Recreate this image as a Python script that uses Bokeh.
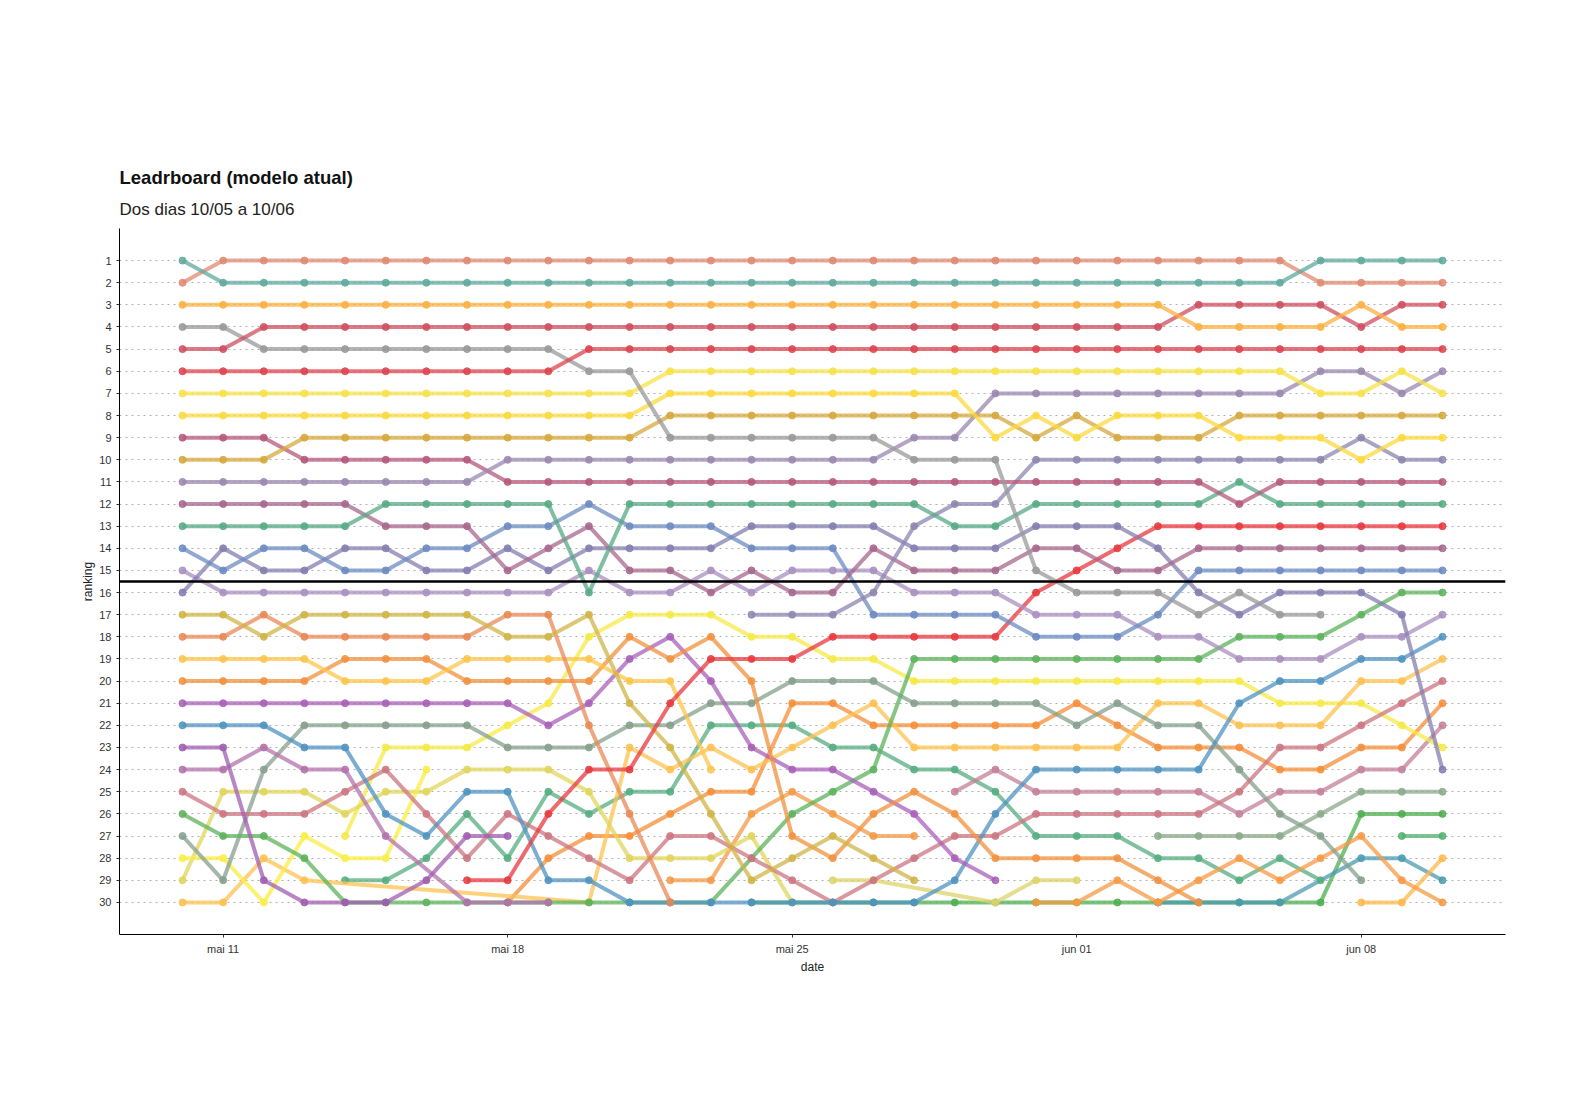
from bokeh.plotting import figure
from bokeh.models import Range1d, FixedTicker, Span, Title
from bokeh.embed import file_html
from bokeh.resources import INLINE

N = None

# days 10/05 .. 10/06 (index 0 = mai 10)
days = list(range(32))
x_tick_days = [1, 8, 15, 22, 29]
x_tick_labels = ["mai 11", "mai 18", "mai 25", "jun 01", "jun 08"]
rank_ticks = list(range(1, 31))

teal = [1,2,2,2,2,2,2,2,2,2, 2,2,2,2,2,2,2,2,2,2, 2,2,2,2,2,2,2,2,1,1, 1,1]
salmon = [2,1,1,1,1,1,1,1,1,1, 1,1,1,1,1,1,1,1,1,1, 1,1,1,1,1,1,1,1,2,2, 2,2]
orange_a = [3,3,3,3,3,3,3,3,3,3, 3,3,3,3,3,3,3,3,3,3, 3,3,3,3,3,4,4,4,4,3, 4,4]
red_a = [5,5,4,4,4,4,4,4,4,4, 4,4,4,4,4,4,4,4,4,4, 4,4,4,4,4,3,3,3,3,4, 3,3]
red_b = [6,6,6,6,6,6,6,6,6,6, 5,5,5,5,5,5,5,5,5,5, 5,5,5,5,5,5,5,5,5,5, 5,5]
gray_a = [4,4,5,5,5,5,5,5,5,5, 6,6,9,9,9,9,9,9,10,10, 10,15,16,16,16,17,16,17,17,N, N,N]
yellow_a = [7,7,7,7,7,7,7,7,7,7, 7,7,6,6,6,6,6,6,6,6, 6,6,6,6,6,6,6,6,7,7, 6,7]
yellow_b = [8,8,8,8,8,8,8,8,8,8, 8,8,7,7,7,7,7,7,7,7, 9,8,9,8,8,8,9,9,9,10, 9,9]
gold_a = [10,10,10,9,9,9,9,9,9,9, 9,9,8,8,8,8,8,8,8,8, 8,9,8,9,9,9,8,8,8,8, 8,8]
purple_a = [11,11,11,11,11,11,11,11,10,10, 10,10,10,10,10,10,10,10,9,9, 7,7,7,7,7,7,7,7,6,6, 7,6]
rose_a = [9,9,9,10,10,10,10,10,11,11, 11,11,11,11,11,11,11,11,11,11, 11,11,11,11,11,11,12,11,11,11, 11,11]
green_a = [13,13,13,13,13,12,12,12,12,12, 16,12,12,12,12,12,12,12,12,13, 13,12,12,12,12,12,11,12,12,12, 12,12]
purple_b = [N,N,N,N,N,N,N,N,N,N, N,N,N,N,17,17,17,16,13,12, 12,10,10,10,10,10,10,10,10,9, 10,10]
rose_b = [12,12,12,12,12,13,13,13,15,14, 13,15,15,16,15,16,16,14,15,15, 15,14,14,15,15,14,14,14,14,14, 14,14]
blue_a = [14,15,14,14,15,15,14,14,13,13, 12,13,13,13,14,14,14,17,17,17, 17,18,18,18,17,15,15,15,15,15, 15,15]
slate_a = [16,14,15,15,14,14,15,15,14,15, 14,14,14,14,13,13,13,13,14,14, 14,13,13,13,14,16,17,16,16,16, 17,24]
lavender_a = [15,16,16,16,16,16,16,16,16,16, 15,16,16,15,16,15,15,15,16,16, 16,17,17,17,18,18,19,19,19,18, 18,17]
red_c = [N,N,N,N,N,N,N,29,29,26, 24,24,21,19,19,19,18,18,18,18, 18,16,15,14,13,13,13,13,13,13, 13,13]
khaki_a = [17,17,18,17,17,17,17,17,18,18, 17,21,23,26,29,28,27,28,29,N, N,N,N,N,N,N,N,N,N,N, N,N]
orange_b = [18,18,17,18,18,18,18,18,17,17, 22,26,30,N,N,N,N,N,N,N, N,N,N,N,N,N,N,N,N,N, N,N]
ltorange_a = [19,19,19,19,20,20,20,19,19,19, 19,20,20,24,N,N,N,N,N,N, N,N,N,N,N,N,N,N,N,N, N,N]
orange_c = [20,20,20,20,19,19,19,20,20,20, 20,18,19,18,20,27,28,26,25,26, 28,28,28,28,29,30,N,N,N,N, N,N]
purple_c = [21,21,21,21,21,21,21,21,21,22, 21,19,18,20,23,24,24,25,26,28, 29,N,N,N,N,N,N,N,N,N, N,N]
blue_b = [22,22,22,23,23,26,27,25,25,29, 29,30,30,30,30,30,30,30,30,29, 26,24,24,24,24,24,21,20,20,19, 19,18]
purple_d = [23,23,29,30,30,30,29,27,27,N, N,N,N,N,N,N,N,N,N,N, N,N,N,N,N,N,N,N,N,N, N,N]
mauve_a = [24,24,23,24,24,27,N,30,30,30, N,N,N,N,N,N,N,N,N,N, N,N,N,N,N,N,N,N,N,N, N,N]
rose_c = [25,26,26,26,25,24,26,28,26,27, 28,29,27,27,28,29,30,29,28,27, 27,26,26,26,26,26,25,23,23,22, 21,20]
green_b = [26,27,27,28,30,30,30,30,30,30, 30,30,30,30,28,26,25,24,19,19, 19,19,19,19,19,19,18,18,18,17, 16,16]
graygreen_a = [27,29,24,22,22,22,22,22,23,23, 23,22,22,21,21,20,20,20,21,21, 21,21,22,21,22,22,24,26,27,29, N,N]
yellow_c = [28,28,30,27,28,28,24,N,N,N, N,N,N,N,N,N,N,N,N,N, N,N,N,N,N,N,N,N,N,N, N,N]
khakiyellow_a = [29,25,25,25,26,25,25,24,24,24, 25,28,28,28,27,30,N,N,N,N, N,N,N,N,N,N,N,N,N,N, N,N]
ltorange_b = [30,30,28,29,N,N,N,N,N,N, 30,23,24,23,24,23,22,21,23,23, 23,23,23,23,21,21,22,22,22,20, 20,19]
yellow_d = [N,N,N,N,27,23,23,23,22,21, 18,17,17,17,18,18,19,19,20,20, 20,20,20,20,20,20,20,21,21,21, 22,23]
orange_d = [N,N,N,N,N,N,N,N,30,28, 27,27,26,25,25,21,21,22,22,22, 22,22,21,22,23,23,23,24,24,23, 23,21]
orange_e = [N,N,N,N,N,N,N,N,N,N, N,N,29,29,26,25,26,27,27,N, N,N,N,N,N,N,N,N,N,N, N,N]
orange_f = [N,N,N,N,N,N,N,N,N,N, N,N,N,N,N,N,N,N,N,N, N,30,30,29,30,29,28,29,28,27, 29,30]
khakiyellow_b = [N,N,N,N,N,N,N,N,N,N, N,N,N,N,N,N,29,29,N,N, 30,29,29,N,N,N,N,N,N,N, N,N]
rose_d = [N,N,N,N,N,N,N,N,N,N, N,N,N,N,N,N,N,N,N,25, 24,25,25,25,25,25,26,25,25,24, 24,22]
green_c = [N,N,N,N,29,29,28,26,28,25, 26,25,25,22,22,22,23,23,24,24, 25,27,27,27,28,28,29,28,29,N, N,N]
graygreen_b = [N,N,N,N,N,N,N,N,N,N, N,N,N,N,N,N,N,N,N,N, N,N,N,N,27,27,27,27,26,25, 25,25]
green_d = [N,N,N,N,N,N,N,N,N,N, N,N,N,N,30,30,30,30,30,30, 30,30,30,30,30,30,30,30,30,26, 26,26]
teal_b = [N,N,N,N,N,N,N,N,N,N, N,N,N,N,N,N,N,N,N,N, N,N,N,N,30,30,30,30,N,28, 28,29]
green_e = [N,N,N,N,N,N,N,N,N,N, N,N,N,N,N,N,N,N,N,N, N,N,N,N,N,N,N,N,N,N, 27,27]
ltorange_c = [N,N,N,N,N,N,N,N,N,N, N,N,N,N,N,N,N,N,N,N, N,N,N,N,N,N,N,N,N,30, 30,28]

series = [
    (green_d, "#4CAF4E"), (teal_b, "#4C9BB0"), (green_e, "#52B070"), (ltorange_c, "#FDB84C"),
    (green_c, "#55AD80"), (graygreen_b, "#8BAA8A"), (rose_d, "#C4809A"), (khakiyellow_b, "#DDD36A"),
    (orange_f, "#F79A44"), (orange_e, "#F49A48"), (orange_d, "#F68E38"), (yellow_d, "#F5EA45"),
    (ltorange_b, "#FDC150"), (khakiyellow_a, "#E0D55A"), (yellow_c, "#F9EE45"), (graygreen_a, "#86A08C"),
    (green_b, "#5CB35C"), (rose_c, "#CC7580"), (mauve_a, "#B372AC"), (purple_d, "#A05DB0"),
    (blue_b, "#4F93C0"), (purple_c, "#A860B8"), (orange_c, "#F2913E"), (ltorange_a, "#FDC54A"),
    (orange_b, "#E88A55"), (khaki_a, "#D0B445"), (red_c, "#E8383D"), (lavender_a, "#A98FC0"),
    (slate_a, "#837EB0"), (blue_a, "#6C8BC2"), (rose_b, "#A7678E"), (purple_b, "#8D86B0"),
    (green_a, "#56AA84"), (rose_a, "#B5587A"), (purple_a, "#9B87B0"), (gold_a, "#D6A83C"),
    (yellow_b, "#FCD93D"), (yellow_a, "#F7E24A"), (gray_a, "#999999"), (red_b, "#DD434E"),
    (red_a, "#CF4F5F"), (orange_a, "#FBB040"), (salmon, "#E08A70"), (teal, "#5FA99E"),
]

FONT = "Liberation Sans"

p = figure(width=1580, height=1100, output_backend="svg", toolbar_location=None,
           x_range=Range1d(-1.55, 32.55), y_range=Range1d(31.45, -0.45),
           min_border_left=119, min_border_top=228, min_border_right=75,
           min_border_bottom=166, title=None)
p.outline_line_color = None
p.background_fill_color = "white"

p.add_layout(Title(text="Dos dias 10/05 a 10/06", text_font=FONT, text_font_size="17px",
                   text_font_style="normal", text_color="#222222", align="left",
                   standoff=20), "above")
p.add_layout(Title(text="Leadrboard (modelo atual)", text_font=FONT, text_font_size="18.5px",
                   text_font_style="bold", text_color="#111111", align="left",
                   standoff=0), "above")

p.xgrid.visible = False
p.ygrid.ticker = FixedTicker(ticks=rank_ticks)
p.ygrid.grid_line_color = "#B0B0B0"
p.ygrid.grid_line_dash = "2 4"
p.ygrid.grid_line_width = 1

p.yaxis.ticker = FixedTicker(ticks=rank_ticks)
p.xaxis.ticker = FixedTicker(ticks=x_tick_days)
p.xaxis.major_label_overrides = dict(zip(x_tick_days, x_tick_labels))
for ax in (p.xaxis[0], p.yaxis[0]):
    ax.axis_line_color = "black"
    ax.axis_line_width = 1
    ax.major_tick_in = 0
    ax.major_tick_out = 3
    ax.major_tick_line_color = "#333333"
    ax.minor_tick_line_color = None
    ax.major_label_text_font = FONT
    ax.major_label_text_font_size = "11px"
    ax.major_label_text_color = "#333333"
    ax.axis_label_text_font = FONT
    ax.axis_label_text_font_size = "12px"
    ax.axis_label_text_font_style = "normal"
    ax.axis_label_text_color = "#222222"
p.xaxis.axis_label = "date"
p.yaxis.axis_label = "ranking"
p.xaxis.axis_label_standoff = 2
p.yaxis.axis_label_standoff = 1

for vals, col in series:
    xs = [d for d, v in zip(days, vals) if v is not None]
    ys = [v for v in vals if v is not None]
    p.line(xs, ys, line_color=col, line_width=4, line_alpha=0.75, line_join="round")
    p.scatter(xs, ys, size=7, fill_color=col, line_color=col, fill_alpha=0.85, line_alpha=0.85)

p.add_layout(Span(location=15.5, dimension="width", line_color="black", line_width=2.5))

open("out.html", "w").write(file_html(p, INLINE))
